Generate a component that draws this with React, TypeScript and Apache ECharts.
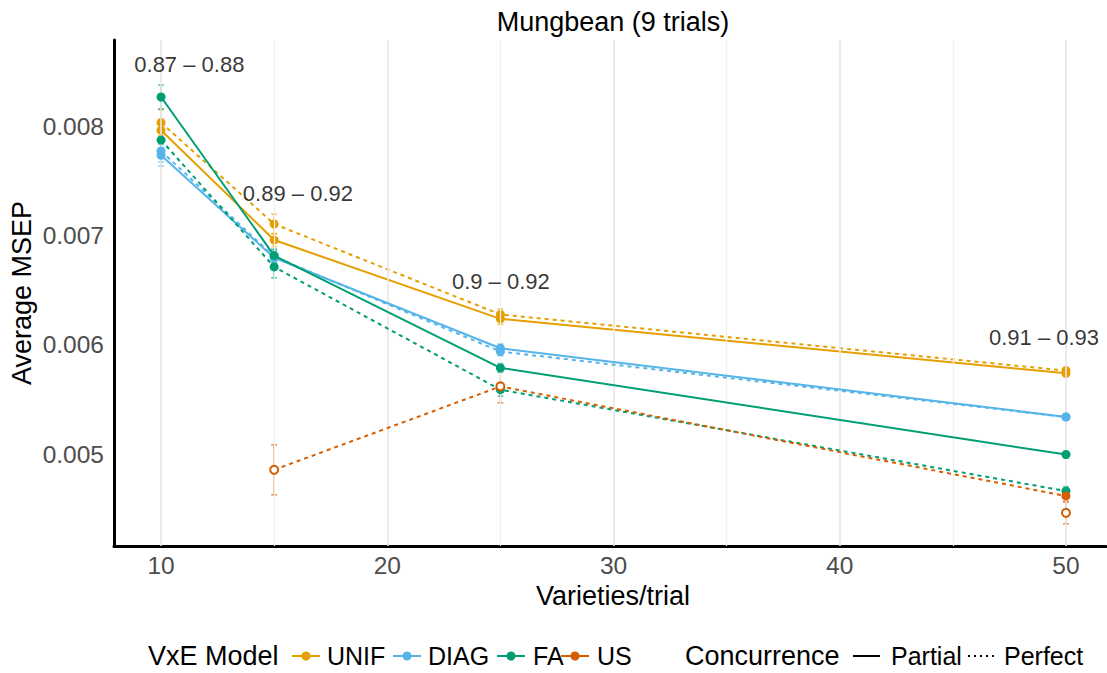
import React, { useEffect, useRef } from "react";
import * as echarts from "echarts";

const varieties = [10, 15, 25, 50];
const unifPartial = [0.00797, 0.006963, 0.00624, 0.00574];
const unifPerfect = [0.00804, 0.00711, 0.00628, 0.005765];
const diagPartial = [0.00774, 0.0068, 0.00597, 0.00534];
const diagPerfect = [0.00778, 0.00681, 0.00594, 0.00534];
const faPartial = [0.008275, 0.00682, 0.00579, 0.004995];
const faPerfect = [0.00788, 0.006716, 0.00559, 0.00466];
const usPartial = [null, null, null, 0.00446];
const usPerfect = [null, 0.004855, 0.00562, 0.004615];
const usPartialOpen = [false, false, false, true];
const usPerfectOpen = [false, true, true, false];

const unifPartialErr = [0.0001, 0.00006, 0.00005, 0.00003];
const unifPerfectErr = [0.00012, 0.00009, 0.00005, 0.00003];
const diagPartialErr = [0.0001, 0.00006, 0.00004, 0.00003];
const diagPerfectErr = [0.0001, 0.00006, 0.00004, 0.00003];
const faPartialErr = [0.00011, 0.00006, 0.00004, 0.00003];
const faPerfectErr = [0.00008, 0.0001, 0.00006, 0.00004];
const usPartialErr = [null, null, null, 0.0001];
const usPerfectErr = [null, 0.00023, 0.00015, 0.00005];

const annoText = ["0.87 – 0.88", "0.89 – 0.92", "0.9 – 0.92", "0.91 – 0.93"];
const annoX = [11.25, 16.05, 25.02, 49.03];
const annoY = [0.008569, 0.007394, 0.006578, 0.006073];

const xTicks = [10, 20, 30, 40, 50];
const xMinor = [15, 25, 35, 45];
const yTicks = [0.005, 0.006, 0.007, 0.008];
const yMinor = [0.0045, 0.0055, 0.0065, 0.0075, 0.0085];

const models = ["UNIF", "DIAG", "FA", "US"];
const colors: Record<string, string> = {
  UNIF: "#E69F00",
  DIAG: "#56B4E9",
  FA: "#009E73",
  US: "#D55E00",
};

const FONT = "Liberation Sans, Arial, Helvetica, sans-serif";

function hexA(hex: string, a: number) {
  const r = parseInt(hex.slice(1, 3), 16);
  const g = parseInt(hex.slice(3, 5), 16);
  const b = parseInt(hex.slice(5, 7), 16);
  return `rgba(${r},${g},${b},${a})`;
}

export default function App() {
  const ref = useRef<HTMLDivElement>(null);
  useEffect(() => {
    if (!ref.current) return;
    const chart = echarts.init(ref.current, undefined, { renderer: "svg" });

    const groups = [
      { model: "UNIF", perfect: false, vals: unifPartial, err: unifPartialErr, open: null as any },
      { model: "UNIF", perfect: true, vals: unifPerfect, err: unifPerfectErr, open: null },
      { model: "DIAG", perfect: false, vals: diagPartial, err: diagPartialErr, open: null },
      { model: "DIAG", perfect: true, vals: diagPerfect, err: diagPerfectErr, open: null },
      { model: "FA", perfect: false, vals: faPartial, err: faPartialErr, open: null },
      { model: "FA", perfect: true, vals: faPerfect, err: faPerfectErr, open: null },
      { model: "US", perfect: false, vals: usPartial, err: usPartialErr, open: usPartialOpen },
      { model: "US", perfect: true, vals: usPerfect, err: usPerfectErr, open: usPerfectOpen },
    ];

    const series: any[] = [];

    const gridLine = (axis: "xAxis" | "yAxis", v: number, major: boolean) => ({
      [axis]: v,
      lineStyle: { color: major ? "#e6e6e6" : "#f0f0f0", width: major ? 1.6 : 1.2, type: "solid" },
    });
    series.push({
      type: "scatter",
      data: [[30, 0.006]],
      symbolSize: 0,
      silent: true,
      z: 0,
      markLine: {
        silent: true,
        symbol: ["none", "none"],
        label: { show: false },
        animation: false,
        data: [
          ...yMinor.map((v) => gridLine("yAxis", v, false)),
          ...xMinor.map((v) => gridLine("xAxis", v, false)),
          ...yTicks.map((v) => gridLine("yAxis", v, true)),
          ...xTicks.map((v) => gridLine("xAxis", v, true)),
        ],
      },
    });

    groups.forEach((g, gi) => {
      const c = colors[g.model];
      const errData: any[] = [];
      varieties.forEach((x, i) => {
        if (g.vals[i] != null && g.err[i] != null) errData.push([x, g.vals[i], g.err[i]]);
      });
      series.push({
        type: "custom",
        z: 2,
        silent: true,
        renderItem: (params: any, api: any) => {
          const x = api.value(0);
          const y = api.value(1);
          const e = api.value(2);
          const top = api.coord([x, y + e]);
          const bot = api.coord([x, y - e]);
          const w = 3;
          const st = { stroke: hexA(c, 0.6), lineWidth: 1.6 };
          return {
            type: "group",
            children: [
              { type: "line", shape: { x1: top[0], y1: top[1], x2: bot[0], y2: bot[1] }, style: st },
              { type: "line", shape: { x1: top[0] - w, y1: top[1], x2: top[0] + w, y2: top[1] }, style: st },
              { type: "line", shape: { x1: bot[0] - w, y1: bot[1], x2: bot[0] + w, y2: bot[1] }, style: st },
            ],
          };
        },
        data: errData,
      });
      const data: any[] = [];
      varieties.forEach((x, i) => {
        if (g.vals[i] == null) return;
        const open = g.open ? g.open[i] : false;
        data.push({
          value: [x, g.vals[i]],
          symbol: open ? "emptyCircle" : "circle",
          symbolSize: open ? 8 : 9,
          itemStyle: open
            ? { color: c, borderColor: c, borderWidth: 1.6 }
            : { color: c, borderWidth: 0 },
        });
      });
      series.push({
        type: "line",
        name: g.model + (g.perfect ? " Perfect" : " Partial"),
        data,
        z: 3 + gi,
        symbolSize: 9,
        showSymbol: true,
        showAllSymbol: true,
        lineStyle: { color: c, width: 2, type: g.perfect ? [4, 4] : "solid" },
        itemStyle: { color: c },
        emphasis: { disabled: true },
      });
    });

    series.push({
      type: "scatter",
      z: 20,
      symbolSize: 0,
      silent: true,
      data: annoText.map((t, i) => ({ value: [annoX[i], annoY[i]], name: t })),
      label: {
        show: true,
        position: "inside",
        formatter: (p: any) => p.name,
        color: "#000",
        fontSize: 22,
        fontFamily: FONT,
        align: "center",
        verticalAlign: "middle",
      },
    });

    const ly = 656;
    const legendTitleFont = 27;
    const legendFont = 25;
    const titleFont = 27;
    const graphic: any[] = [
      {
        type: "text",
        x: 613,
        y: 22,
        style: { text: "Mungbean (9 trials)", font: `${titleFont}px ${FONT}`, fill: "#000", align: "center", verticalAlign: "middle" },
      },
      {
        type: "text",
        x: 613,
        y: 596,
        style: { text: "Varieties/trial", font: `${titleFont}px ${FONT}`, fill: "#000", align: "center", verticalAlign: "middle" },
      },
      {
        type: "text",
        x: 22,
        y: 293,
        rotation: Math.PI / 2,
        style: { text: "Average MSEP", font: `${titleFont}px ${FONT}`, fill: "#000", align: "center", verticalAlign: "middle" },
      },
      {
        type: "text",
        x: 148,
        y: ly,
        style: { text: "VxE Model", font: `${legendTitleFont}px ${FONT}`, fill: "#000", align: "left", verticalAlign: "middle" },
      },
    ];
    const keyX = [292, 393, 497, 561];
    const textX = [327, 428, 533, 597];
    models.forEach((m, i) => {
      graphic.push({
        type: "line",
        shape: { x1: keyX[i], y1: ly, x2: keyX[i] + 28, y2: ly },
        style: { stroke: colors[m], lineWidth: 2 },
      });
      graphic.push({
        type: "circle",
        shape: { cx: keyX[i] + 14, cy: ly, r: 4.5 },
        style: { fill: colors[m] },
      });
      graphic.push({
        type: "text",
        x: textX[i],
        y: ly,
        style: { text: m, font: `${legendFont}px ${FONT}`, fill: "#000", align: "left", verticalAlign: "middle" },
      });
    });
    graphic.push({
      type: "text",
      x: 685,
      y: ly,
      style: { text: "Concurrence", font: `${legendTitleFont}px ${FONT}`, fill: "#000", align: "left", verticalAlign: "middle" },
    });
    graphic.push({
      type: "line",
      shape: { x1: 853, y1: ly, x2: 880, y2: ly },
      style: { stroke: "#000", lineWidth: 2 },
    });
    graphic.push({
      type: "text",
      x: 891,
      y: ly,
      style: { text: "Partial", font: `${legendFont}px ${FONT}`, fill: "#000", align: "left", verticalAlign: "middle" },
    });
    graphic.push({
      type: "line",
      shape: { x1: 968, y1: ly, x2: 998, y2: ly },
      style: { stroke: "#000", lineWidth: 2, lineDash: [2, 4] },
    });
    graphic.push({
      type: "text",
      x: 1004,
      y: ly,
      style: { text: "Perfect", font: `${legendFont}px ${FONT}`, fill: "#000", align: "left", verticalAlign: "middle" },
    });

    chart.setOption({
      animation: false,
      backgroundColor: "#fff",
      textStyle: { fontFamily: FONT },
      grid: { left: 114, right: 1, top: 40, bottom: 127, containLabel: false },
      xAxis: {
        type: "value",
        min: 7.92,
        max: 51.77,
        axisLine: { show: true, onZero: false, lineStyle: { color: "#000", width: 3 } },
        axisTick: { show: false },
        splitLine: { show: false },
        axisLabel: {
          show: true,
          customValues: xTicks,
          color: "#4d4d4d",
          fontSize: 24.5,
          fontFamily: FONT,
          margin: 7,
        },
      },
      yAxis: {
        type: "value",
        min: 0.004156,
        max: 0.008798,
        axisLine: { show: true, onZero: false, lineStyle: { color: "#000", width: 3 } },
        axisTick: { show: false },
        splitLine: { show: false },
        axisLabel: {
          show: true,
          customValues: yTicks,
          color: "#4d4d4d",
          fontSize: 24.5,
          fontFamily: FONT,
          margin: 10,
          formatter: (v: number) => v.toFixed(3),
        },
      },
      graphic,
      series,
    });
    return () => chart.dispose();
  }, []);
  return (
    <div
      ref={ref}
      style={{ position: "fixed", left: 0, top: 0, width: 1107, height: 673, background: "#fff" }}
    />
  );
}
